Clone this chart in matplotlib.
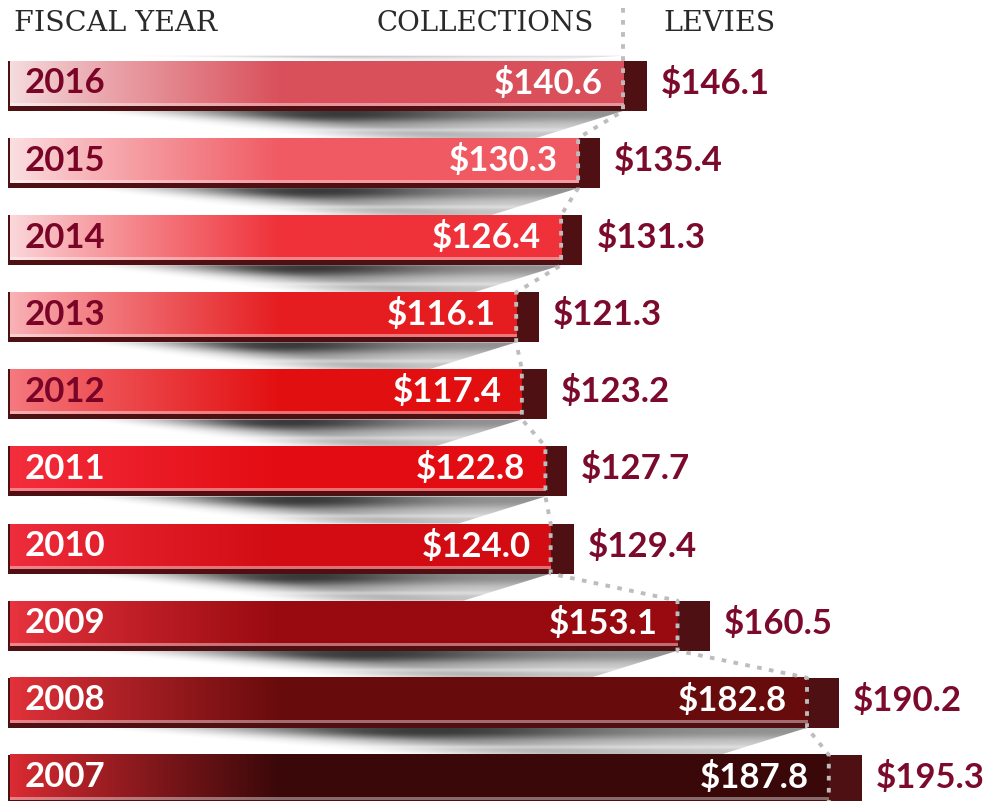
import numpy as np
import matplotlib
matplotlib.use("Agg")
import matplotlib.pyplot as plt
from matplotlib.patches import Rectangle, Polygon
from matplotlib.colors import to_rgb

# ---- data ----
years = ["2016", "2015", "2014", "2013", "2012", "2011", "2010", "2009", "2008", "2007"]
collections = [140.6, 130.3, 126.4, 116.1, 117.4, 122.8, 124.0, 153.1, 182.8, 187.8]
levies = [146.1, 135.4, 131.3, 121.3, 123.2, 127.7, 129.4, 160.5, 190.2, 195.3]
headers = ["FISCAL YEAR", "COLLECTIONS", "LEVIES"]

# styles
left_cols = ["#f5dde0", "#fbe0e2", "#fbd9dc", "#f9b3b7", "#f57a80",
             "#f42e3e", "#ee2d3d", "#e8343f", "#e3323b", "#dc2b33"]
main_cols = ["#d9505b", "#f05a63", "#ef3139", "#e51d20", "#e20f10",
             "#e30c12", "#d20c12", "#980a10", "#680b0c", "#3a0809"]
year_cols = ["#7a0428"] * 5 + ["white"] * 5
levy_col = "#4f1013"
value_col = "#7b0a2c"
dot_col = "#bdbdbd"

W, H = 995, 801
fig = plt.figure(figsize=(W / 100, H / 100), dpi=100)
ax = fig.add_axes([0, 0, 1, 1])
px_per_unit = 4.36
x0_px = 10
row_px = 77.1
row0_px = 85
ax.set_xlim(-x0_px / px_per_unit, (W - x0_px) / px_per_unit)
ax.set_ylim((H - row0_px) / row_px, -row0_px / row_px)
ax.axis("off")

bar_top = -24 / row_px
bar_bot = 26 / row_px
coll_bot = 21 / row_px
uy = 1 / row_px

n = len(years)


def smooth(e0, e1, v):
    t = np.clip((v - e0) / (e1 - e0), 0, 1)
    return t * t * (3 - 2 * t)


# ---- shadows ----
def draw_shadow(i, c, strength=1.0, y_start=None, y_end=None):
    yt = i + bar_bot if y_start is None else y_start
    yb = i + 1 + bar_top if y_end is None else y_end
    xl = 12.0
    xr = c
    shift = 20.0
    nx, ny = 500, 50
    xs = np.linspace(xl, xr, nx)
    ys = np.linspace(yt, yb, ny)
    X, Y = np.meshgrid(xs, ys)
    u = (X - xl) / (xr - xl)
    ty = (Y - yt) / (yb - yt)
    left = 0.0 + 0.42 * ty
    f = smooth(left, left + 0.36, u)
    g = 0.48 + 0.40 * np.exp(-((u - 0.5) / 0.22) ** 2)
    v = 1.0 - 0.5 * smooth(0.15, 0.6, ty)
    v = v - 0.2 * np.exp(-((ty - 0.72) / 0.08) ** 2)
    a = np.clip(f * g * v * strength, 0, 1)
    img = np.zeros((ny, nx, 4))
    img[..., :3] = 0.12
    img[..., 3] = a
    im = ax.imshow(img, extent=(xl, xr, yb, yt), aspect="auto", zorder=1,
                   interpolation="bilinear", origin="upper")
    poly = Polygon([(xl, yt), (xr, yt), (xr - shift, yb), (xl, yb)],
                   closed=True, transform=ax.transData, facecolor="none",
                   edgecolor="none")
    ax.add_patch(poly)
    im.set_clip_path(poly)


for i in range(n - 1):
    draw_shadow(i, collections[i])
draw_shadow(-1, collections[0], strength=0.3, y_start=-1 + 0.62, y_end=bar_top)

# ---- bars ----
fnt = dict(fontsize=25, fontweight="bold", family="Lato", va="center", zorder=6)
for i in range(n):
    c, l = collections[i], levies[i]
    # dark base / levy
    ax.add_patch(Rectangle((-0.5, i + bar_top), l + 0.5, bar_bot - bar_top,
                           facecolor=levy_col, edgecolor="none", zorder=2))
    # gradient collection bar
    nx = 600
    xs = np.linspace(0, c, nx)
    t = np.clip(xs / 62.0, 0, 1) ** 0.9
    lc = np.array(to_rgb(left_cols[i]))
    mc = np.array(to_rgb(main_cols[i]))
    cols = lc[None, :] * (1 - t[:, None]) + mc[None, :] * t[:, None]
    ax.imshow(cols[None, :, :], extent=(0, c, i + coll_bot, i + bar_top),
              aspect="auto", zorder=3, interpolation="bilinear")
    # highlight line near bottom
    hl = np.clip(cols * 0.6 + 0.4, 0, 1)
    ax.imshow(hl[None, :, :], extent=(0, c, i + coll_bot, i + coll_bot - 2.2 * uy),
              aspect="auto", zorder=4, interpolation="bilinear")
    # labels
    ax.text(3.4, i - 1.5 * uy, years[i], color=year_cols[i], ha="left", **fnt)
    ax.text(c - 4.6, i - 1.5 * uy, f"${c:.1f}", color="white", ha="right", **fnt)
    ax.text(l + 3.2, i - 1.5 * uy, f"${l:.1f}", color=value_col, ha="left", **fnt)

# ---- dotted connector ----
px = [collections[0]]
py = [-(row0_px - 8) / row_px]
for i in range(n):
    px += [collections[i], collections[i]]
    py += [i + bar_top, i + bar_bot]
py[-1] = (H - row0_px) / row_px
ax.plot(px, py, color=dot_col, lw=2.8, ls=(0, (1.2, 1.9)), zorder=5,
        solid_capstyle="butt", dash_capstyle="butt")

# ---- headers ----
hy = -(row0_px - 24) / row_px
hf = dict(family="DejaVu Serif", color="#2a2a2a", va="center")
ax.text(1.0, hy, headers[0], ha="left", fontsize=20.5, **hf)
ax.text(134.0, hy, headers[1], ha="right", fontsize=20, **hf)
ax.text(149.8, hy, headers[2], ha="left", fontsize=20.5, **hf)

fig.savefig("out.png", dpi=100)
